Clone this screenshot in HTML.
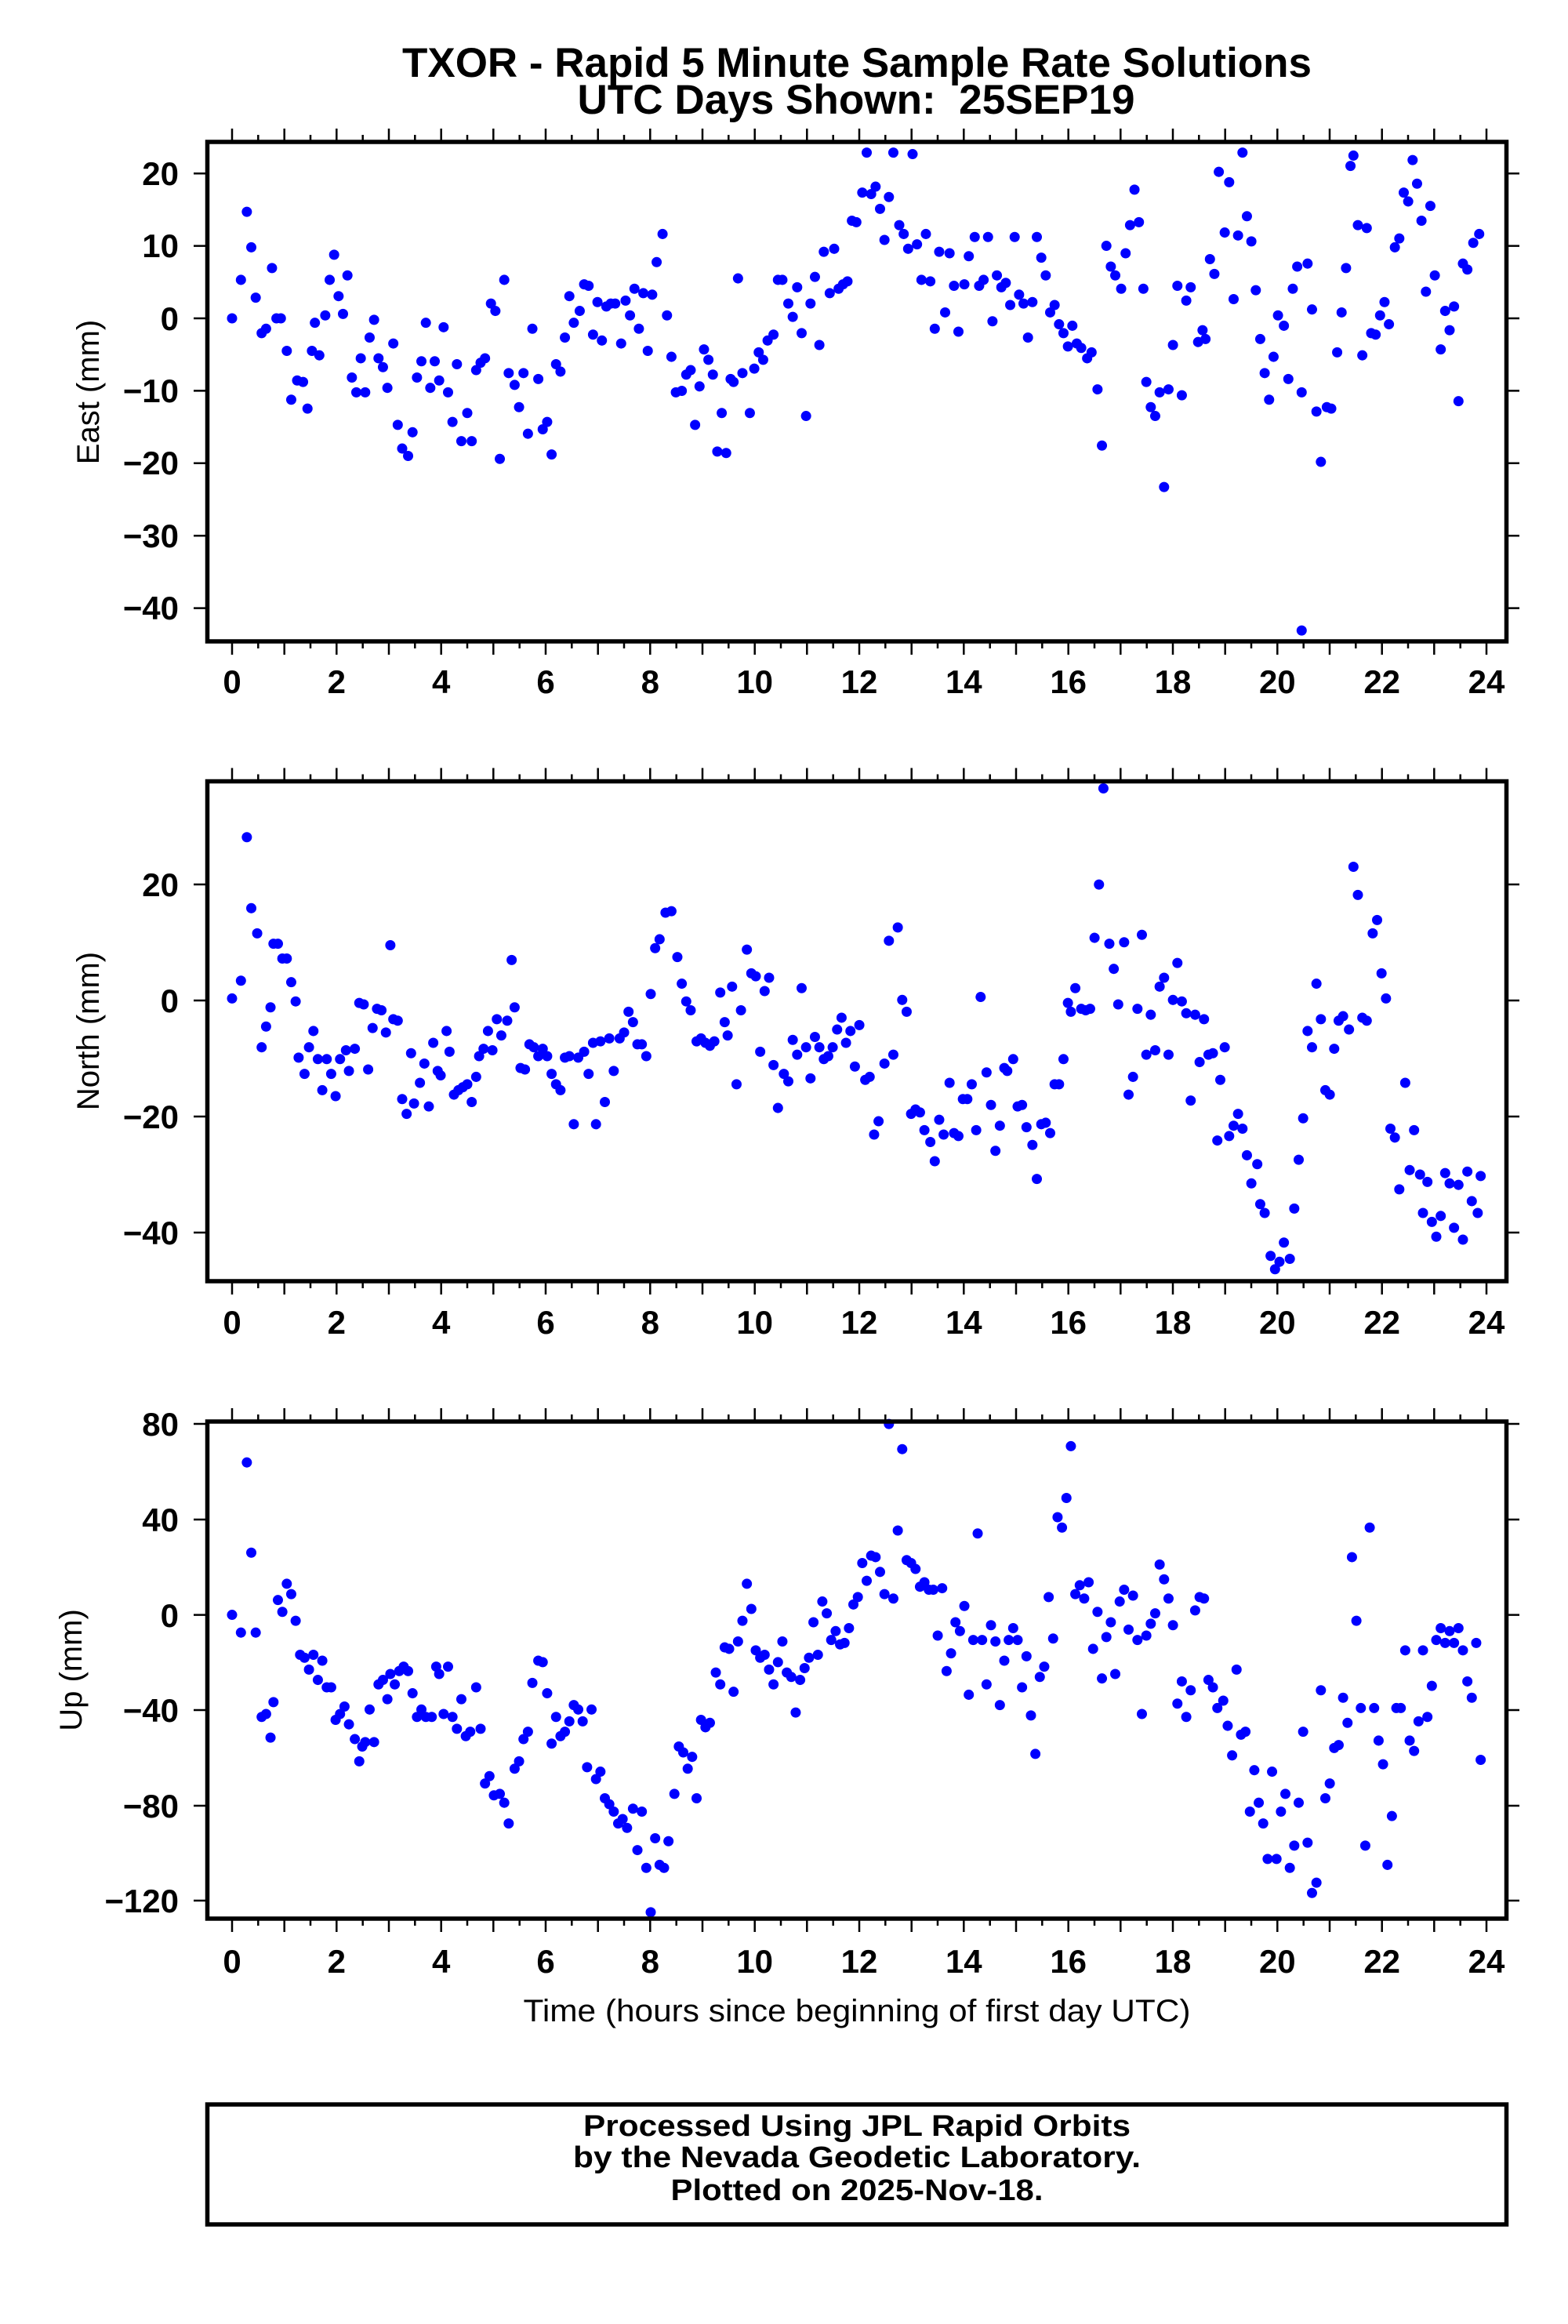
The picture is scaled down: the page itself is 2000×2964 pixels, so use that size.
<!DOCTYPE html>
<html><head><meta charset="utf-8"><style>html,body{margin:0;padding:0;background:#fff}svg{display:block}</style></head><body>
<svg width="2000" height="2964" viewBox="0 0 2000 2964" xmlns="http://www.w3.org/2000/svg" font-family="'Liberation Sans', sans-serif">
<rect width="2000" height="2964" fill="#fff"/>
<text x="1093" y="98" font-size="53" font-weight="bold" text-anchor="middle" textLength="1160" lengthAdjust="spacingAndGlyphs">TXOR - Rapid 5 Minute Sample Rate Solutions</text>
<text x="1092" y="145" font-size="53" font-weight="bold" text-anchor="middle" textLength="711" lengthAdjust="spacingAndGlyphs" xml:space="preserve">UTC Days Shown:  25SEP19</text>

<g stroke="#000" stroke-width="2.5">
<path d="M296 181v-17M329.3 181v-9M362.7 181v-17M396 181v-9M429.3 181v-17M462.7 181v-9M496 181v-17M529.3 181v-9M562.7 181v-17M596 181v-9M629.3 181v-17M662.7 181v-9M696 181v-17M729.3 181v-9M762.7 181v-17M796 181v-9M829.3 181v-17M862.7 181v-9M896 181v-17M929.3 181v-9M962.7 181v-17M996 181v-9M1029.3 181v-17M1062.7 181v-9M1096 181v-17M1129.3 181v-9M1162.7 181v-17M1196 181v-9M1229.3 181v-17M1262.7 181v-9M1296 181v-17M1329.3 181v-9M1362.7 181v-17M1396 181v-9M1429.3 181v-17M1462.7 181v-9M1496 181v-17M1529.3 181v-9M1562.7 181v-17M1596 181v-9M1629.3 181v-17M1662.7 181v-9M1696 181v-17M1729.3 181v-9M1762.7 181v-17M1796 181v-9M1829.3 181v-17M1862.7 181v-9M1896 181v-17"/>
</g>

<!-- Panel 1 -->
<g stroke="#000" stroke-width="2.5">
<path d="M296 818v17M329.3 818v9M362.7 818v17M396 818v9M429.3 818v17M462.7 818v9M496 818v17M529.3 818v9M562.7 818v17M596 818v9M629.3 818v17M662.7 818v9M696 818v17M729.3 818v9M762.7 818v17M796 818v9M829.3 818v17M862.7 818v9M896 818v17M929.3 818v9M962.7 818v17M996 818v9M1029.3 818v17M1062.7 818v9M1096 818v17M1129.3 818v9M1162.7 818v17M1196 818v9M1229.3 818v17M1262.7 818v9M1296 818v17M1329.3 818v9M1362.7 818v17M1396 818v9M1429.3 818v17M1462.7 818v9M1496 818v17M1529.3 818v9M1562.7 818v17M1596 818v9M1629.3 818v17M1662.7 818v9M1696 818v17M1729.3 818v9M1762.7 818v17M1796 818v9M1829.3 818v17M1862.7 818v9M1896 818v17"/>
<path d="M247 221.2h17M247 313.6h17M247 406h17M247 498.4h17M247 590.8h17M247 683.2h17M247 775.6h17M1921 221.2h17M1921 313.6h17M1921 406h17M1921 498.4h17M1921 590.8h17M1921 683.2h17M1921 775.6h17"/>
</g>
<g font-size="42" font-weight="bold" text-anchor="end">
<text x="228" y="236">20</text><text x="228" y="328">10</text><text x="228" y="421">0</text><text x="228" y="513">−10</text><text x="228" y="605">−20</text><text x="228" y="698">−30</text><text x="228" y="790">−40</text>
</g>
<text transform="translate(126,500) rotate(-90)" font-size="40" text-anchor="middle">East (mm)</text>

<!-- Panel 2 -->
<g stroke="#000" stroke-width="2.5">
<path d="M296 996.5v-17M329.3 996.5v-9M362.7 996.5v-17M396 996.5v-9M429.3 996.5v-17M462.7 996.5v-9M496 996.5v-17M529.3 996.5v-9M562.7 996.5v-17M596 996.5v-9M629.3 996.5v-17M662.7 996.5v-9M696 996.5v-17M729.3 996.5v-9M762.7 996.5v-17M796 996.5v-9M829.3 996.5v-17M862.7 996.5v-9M896 996.5v-17M929.3 996.5v-9M962.7 996.5v-17M996 996.5v-9M1029.3 996.5v-17M1062.7 996.5v-9M1096 996.5v-17M1129.3 996.5v-9M1162.7 996.5v-17M1196 996.5v-9M1229.3 996.5v-17M1262.7 996.5v-9M1296 996.5v-17M1329.3 996.5v-9M1362.7 996.5v-17M1396 996.5v-9M1429.3 996.5v-17M1462.7 996.5v-9M1496 996.5v-17M1529.3 996.5v-9M1562.7 996.5v-17M1596 996.5v-9M1629.3 996.5v-17M1662.7 996.5v-9M1696 996.5v-17M1729.3 996.5v-9M1762.7 996.5v-17M1796 996.5v-9M1829.3 996.5v-17M1862.7 996.5v-9M1896 996.5v-17"/>
<path d="M296 1634v17M329.3 1634v9M362.7 1634v17M396 1634v9M429.3 1634v17M462.7 1634v9M496 1634v17M529.3 1634v9M562.7 1634v17M596 1634v9M629.3 1634v17M662.7 1634v9M696 1634v17M729.3 1634v9M762.7 1634v17M796 1634v9M829.3 1634v17M862.7 1634v9M896 1634v17M929.3 1634v9M962.7 1634v17M996 1634v9M1029.3 1634v17M1062.7 1634v9M1096 1634v17M1129.3 1634v9M1162.7 1634v17M1196 1634v9M1229.3 1634v17M1262.7 1634v9M1296 1634v17M1329.3 1634v9M1362.7 1634v17M1396 1634v9M1429.3 1634v17M1462.7 1634v9M1496 1634v17M1529.3 1634v9M1562.7 1634v17M1596 1634v9M1629.3 1634v17M1662.7 1634v9M1696 1634v17M1729.3 1634v9M1762.7 1634v17M1796 1634v9M1829.3 1634v17M1862.7 1634v9M1896 1634v17"/>
<path d="M247 1128h17M247 1276h17M247 1424h17M247 1572h17M1921 1128h17M1921 1276h17M1921 1424h17M1921 1572h17"/>
</g>
<g font-size="42" font-weight="bold" text-anchor="end">
<text x="228" y="1143">20</text><text x="228" y="1291">0</text><text x="228" y="1439">−20</text><text x="228" y="1587">−40</text>
</g>
<text transform="translate(126,1315) rotate(-90)" font-size="40" text-anchor="middle">North (mm)</text>

<!-- Panel 3 -->
<g stroke="#000" stroke-width="2.5">
<path d="M296 1813v-17M329.3 1813v-9M362.7 1813v-17M396 1813v-9M429.3 1813v-17M462.7 1813v-9M496 1813v-17M529.3 1813v-9M562.7 1813v-17M596 1813v-9M629.3 1813v-17M662.7 1813v-9M696 1813v-17M729.3 1813v-9M762.7 1813v-17M796 1813v-9M829.3 1813v-17M862.7 1813v-9M896 1813v-17M929.3 1813v-9M962.7 1813v-17M996 1813v-9M1029.3 1813v-17M1062.7 1813v-9M1096 1813v-17M1129.3 1813v-9M1162.7 1813v-17M1196 1813v-9M1229.3 1813v-17M1262.7 1813v-9M1296 1813v-17M1329.3 1813v-9M1362.7 1813v-17M1396 1813v-9M1429.3 1813v-17M1462.7 1813v-9M1496 1813v-17M1529.3 1813v-9M1562.7 1813v-17M1596 1813v-9M1629.3 1813v-17M1662.7 1813v-9M1696 1813v-17M1729.3 1813v-9M1762.7 1813v-17M1796 1813v-9M1829.3 1813v-17M1862.7 1813v-9M1896 1813v-17"/>
<path d="M296 2447v17M329.3 2447v9M362.7 2447v17M396 2447v9M429.3 2447v17M462.7 2447v9M496 2447v17M529.3 2447v9M562.7 2447v17M596 2447v9M629.3 2447v17M662.7 2447v9M696 2447v17M729.3 2447v9M762.7 2447v17M796 2447v9M829.3 2447v17M862.7 2447v9M896 2447v17M929.3 2447v9M962.7 2447v17M996 2447v9M1029.3 2447v17M1062.7 2447v9M1096 2447v17M1129.3 2447v9M1162.7 2447v17M1196 2447v9M1229.3 2447v17M1262.7 2447v9M1296 2447v17M1329.3 2447v9M1362.7 2447v17M1396 2447v9M1429.3 2447v17M1462.7 2447v9M1496 2447v17M1529.3 2447v9M1562.7 2447v17M1596 2447v9M1629.3 2447v17M1662.7 2447v9M1696 2447v17M1729.3 2447v9M1762.7 2447v17M1796 2447v9M1829.3 2447v17M1862.7 2447v9M1896 2447v17"/>
<path d="M247 1816h17M247 1938h17M247 2059.6h17M247 2181h17M247 2303h17M247 2424h17M1921 1816h17M1921 1938h17M1921 2059.6h17M1921 2181h17M1921 2303h17M1921 2424h17"/>
</g>
<g font-size="42" font-weight="bold" text-anchor="end">
<text x="228" y="1831">80</text><text x="228" y="1953">40</text><text x="228" y="2075">0</text><text x="228" y="2196">−40</text><text x="228" y="2318">−80</text><text x="228" y="2439">−120</text>
</g>
<text transform="translate(104,2130) rotate(-90)" font-size="40" text-anchor="middle">Up (mm)</text>

<!-- x labels -->
<g font-size="42" font-weight="bold" text-anchor="middle">
<text x="296" y="884">0</text><text x="429.3" y="884">2</text><text x="562.7" y="884">4</text><text x="696" y="884">6</text><text x="829.3" y="884">8</text><text x="962.7" y="884">10</text><text x="1096" y="884">12</text><text x="1229.3" y="884">14</text><text x="1362.7" y="884">16</text><text x="1496" y="884">18</text><text x="1629.3" y="884">20</text><text x="1762.7" y="884">22</text><text x="1896" y="884">24</text>
<text x="296" y="1701">0</text><text x="429.3" y="1701">2</text><text x="562.7" y="1701">4</text><text x="696" y="1701">6</text><text x="829.3" y="1701">8</text><text x="962.7" y="1701">10</text><text x="1096" y="1701">12</text><text x="1229.3" y="1701">14</text><text x="1362.7" y="1701">16</text><text x="1496" y="1701">18</text><text x="1629.3" y="1701">20</text><text x="1762.7" y="1701">22</text><text x="1896" y="1701">24</text>
<text x="296" y="2516">0</text><text x="429.3" y="2516">2</text><text x="562.7" y="2516">4</text><text x="696" y="2516">6</text><text x="829.3" y="2516">8</text><text x="962.7" y="2516">10</text><text x="1096" y="2516">12</text><text x="1229.3" y="2516">14</text><text x="1362.7" y="2516">16</text><text x="1496" y="2516">18</text><text x="1629.3" y="2516">20</text><text x="1762.7" y="2516">22</text><text x="1896" y="2516">24</text>
</g>
<text x="1093" y="2578" font-size="40" text-anchor="middle" textLength="851" lengthAdjust="spacingAndGlyphs">Time (hours since beginning of first day UTC)</text>

<!-- data -->
<g fill="none" stroke="#0000ff" stroke-width="6.9" stroke-linecap="round">
<path transform="translate(3.5,0.3) scale(1.887)" d="M155 215h0M161 189h0M165 143h0M168 167h0M171 201h0M175 225h0M178 222h0M182 181h0M185 215h0M188 215h0M192 237h0M195 270h0M199 257h0M203 258h0M206 276h0M209 237h0M211 218h0M214 240h0M218 213h0M221 189h0M224 172h0M227 200h0M230 212h0M233 186h0M236 255h0M239 265h0M242 242h0M245 265h0M248 228h0M251 216h0M254 242h0M257 248h0M260 262h0M264 232h0M267 287h0M270 303h0M274 308h0M277 292h0M280 255h0M283 244h0M286 218h0M289 262h0M292 244h0M295 257h0M298 221h0M301 265h0M304 285h0M307 246h0M310 298h0M314 279h0M317 298h0M320 250h0M323 245h0M326 242h0M330 205h0M333 210h0M336 310h0M339 189h0M342 252h0M346 260h0M349 275h0M352 252h0M355 293h0M358 222h0M362 256h0M365 290h0M368 285h0M371 307h0M374 246h0M377 251h0M380 228h0M383 200h0M386 218h0M390 210h0M393 192h0M396 193h0M399 226h0M402 204h0M405 230h0M408 207h0M411 205h0M414 205h0M418 232h0M421 203h0M424 213h0M427 195h0M430 222h0M433 198h0M436 237h0M439 199h0M442 177h0M446 158h0M449 213h0M452 241h0M455 265h0M459 264h0M462 253h0M465 250h0M468 287h0M471 261h0M474 236h0M477 243h0M480 253h0M483 305h0M486 279h0M489 306h0M492 256h0M494 258h0M497 188h0M500 252h0M505 279h0M508 249h0M511 238h0M514 243h0M517 230h0M521 226h0M524 189h0M527 189h0M531 205h0M534 214h0M537 194h0M540 225h0M543 281h0M546 205h0M549 187h0M552 233h0M555 170h0M559 198h0M562 168h0M565 195h0M568 192h0M571 190h0M574 149h0M577 150h0M581 130h0M584 103h0M587 131h0M590 126h0M593 141h0M596 162h0M599 133h0M602 103h0M606 152h0M609 158h0M612 168h0M615 104h0M618 165h0M621 189h0M624 158h0M627 190h0M630 222h0M633 170h0M637 211h0M640 171h0M643 193h0M646 224h0M650 192h0M653 173h0M657 160h0M660 193h0M663 189h0M666 160h0M669 217h0M672 186h0M675 194h0M678 191h0M681 206h0M684 160h0M687 199h0M690 205h0M693 228h0M696 204h0M699 160h0M702 174h0M705 186h0M708 211h0M711 206h0M714 219h0M717 225h0M720 234h0M723 220h0M726 232h0M729 235h0M733 242h0M736 238h0M740 263h0M743 301h0M746 166h0M749 180h0M752 186h0M756 195h0M759 171h0M762 152h0M765 128h0M768 150h0M771 195h0M773 258h0M776 275h0M779 281h0M782 265h0M785 329h0M788 263h0M791 233h0M794 193h0M797 267h0M800 203h0M803 194h0M808 231h0M811 223h0M813 229h0M816 175h0M819 185h0M822 116h0M826 157h0M829 123h0M832 202h0M835 159h0M838 103h0M841 146h0M844 163h0M847 196h0M850 229h0M853 252h0M856 270h0M859 241h0M862 213h0M866 220h0M869 256h0M872 195h0M875 180h0M878 265h0M878 426h0M882 178h0M885 209h0M888 278h0M891 312h0M895 275h0M898 276h0M902 238h0M905 211h0M908 181h0M911 112h0M913 105h0M916 152h0M919 240h0M922 154h0M925 225h0M928 226h0M931 213h0M934 204h0M937 219h0M941 167h0M944 161h0M947 130h0M950 136h0M953 108h0M956 124h0M959 149h0M962 197h0M965 139h0M968 186h0M972 236h0M975 210h0M978 223h0M981 207h0M984 271h0M987 178h0M990 182h0M994 164h0M998 158h0"/>
<path transform="translate(3.5,-0.3) scale(1.887)" d="M155 675h0M161 663h0M165 566h0M168 614h0M172 631h0M175 708h0M178 694h0M181 681h0M183 638h0M186 638h0M189 648h0M192 648h0M195 664h0M198 677h0M200 715h0M204 726h0M207 708h0M210 697h0M213 716h0M216 737h0M219 716h0M222 726h0M225 741h0M228 716h0M232 710h0M234 724h0M238 709h0M241 678h0M244 679h0M247 723h0M250 695h0M253 682h0M256 683h0M259 698h0M262 639h0M264 689h0M267 690h0M270 743h0M273 753h0M276 712h0M278 746h0M282 732h0M285 719h0M288 748h0M291 705h0M294 724h0M296 727h0M300 697h0M302 711h0M305 740h0M308 737h0M311 735h0M314 733h0M317 745h0M320 728h0M322 714h0M325 709h0M328 697h0M331 710h0M334 689h0M337 700h0M341 690h0M344 649h0M346 681h0M350 722h0M353 723h0M356 706h0M359 708h0M362 714h0M365 709h0M368 714h0M371 726h0M374 733h0M377 737h0M380 715h0M383 714h0M386 760h0M389 715h0M393 711h0M396 726h0M399 705h0M401 760h0M404 704h0M407 745h0M410 702h0M413 724h0M417 702h0M420 698h0M423 684h0M426 691h0M429 706h0M432 706h0M435 714h0M438 672h0M441 641h0M444 635h0M448 617h0M452 616h0M456 647h0M459 665h0M462 677h0M465 683h0M469 704h0M472 702h0M475 705h0M478 707h0M481 704h0M485 671h0M488 691h0M490 700h0M493 667h0M496 733h0M499 683h0M503 642h0M506 658h0M509 660h0M512 711h0M515 670h0M518 661h0M521 720h0M524 749h0M528 726h0M531 731h0M534 703h0M537 713h0M540 668h0M543 708h0M546 729h0M549 701h0M552 708h0M555 716h0M558 714h0M561 708h0M564 696h0M567 688h0M570 705h0M573 697h0M576 721h0M579 693h0M583 730h0M586 728h0M589 767h0M592 758h0M596 719h0M599 636h0M602 713h0M605 627h0M608 676h0M611 684h0M614 753h0M617 750h0M620 752h0M623 764h0M627 772h0M630 785h0M633 757h0M636 767h0M640 732h0M643 766h0M646 768h0M649 743h0M652 743h0M655 733h0M658 764h0M661 674h0M665 725h0M668 747h0M671 778h0M674 761h0M677 722h0M679 724h0M683 716h0M686 748h0M689 747h0M692 762h0M696 774h0M699 797h0M702 760h0M705 759h0M708 766h0M711 733h0M714 733h0M717 716h0M720 678h0M722 684h0M725 668h0M729 682h0M732 683h0M735 682h0M738 634h0M741 598h0M744 533h0M748 638h0M751 655h0M754 679h0M758 637h0M761 740h0M764 728h0M767 682h0M770 632h0M773 713h0M776 686h0M779 710h0M782 667h0M785 661h0M788 713h0M791 676h0M794 651h0M797 677h0M800 685h0M803 744h0M806 686h0M809 718h0M812 689h0M815 713h0M818 712h0M821 771h0M823 730h0M826 708h0M829 768h0M832 761h0M835 753h0M838 763h0M841 781h0M844 800h0M848 787h0M850 814h0M853 820h0M857 849h0M860 858h0M863 853h0M866 840h0M870 851h0M873 817h0M876 784h0M879 756h0M882 697h0M885 708h0M888 665h0M891 689h0M894 737h0M897 740h0M900 709h0M903 690h0M906 687h0M910 696h0M913 586h0M916 605h0M919 688h0M922 690h0M926 631h0M929 622h0M932 658h0M935 675h0M938 763h0M941 769h0M944 804h0M948 732h0M951 791h0M954 764h0M958 794h0M960 820h0M963 799h0M966 826h0M969 836h0M972 822h0M975 793h0M978 800h0M981 830h0M984 801h0M987 838h0M990 792h0M993 812h0M997 820h0M999 795h0"/>
<path transform="translate(3.5,4.6) scale(1.887)" d="M155 1089h0M161 1101h0M165 986h0M168 1047h0M171 1101h0M175 1158h0M178 1156h0M181 1172h0M183 1148h0M186 1079h0M189 1087h0M192 1068h0M195 1075h0M198 1093h0M201 1116h0M204 1118h0M207 1126h0M210 1116h0M213 1133h0M216 1120h0M219 1138h0M222 1138h0M225 1160h0M228 1156h0M231 1151h0M234 1163h0M238 1173h0M241 1188h0M243 1178h0M245 1175h0M248 1153h0M251 1175h0M254 1136h0M257 1133h0M260 1146h0M262 1129h0M265 1136h0M268 1127h0M271 1124h0M274 1127h0M277 1142h0M280 1158h0M283 1153h0M286 1158h0M290 1158h0M293 1124h0M295 1129h0M298 1156h0M301 1124h0M304 1158h0M307 1166h0M310 1146h0M313 1171h0M316 1168h0M320 1138h0M323 1166h0M326 1203h0M329 1198h0M332 1211h0M336 1210h0M339 1216h0M342 1230h0M346 1193h0M349 1188h0M352 1173h0M355 1168h0M358 1135h0M362 1120h0M365 1121h0M368 1142h0M371 1176h0M374 1158h0M377 1171h0M380 1168h0M383 1161h0M386 1150h0M389 1153h0M392 1161h0M395 1192h0M398 1153h0M401 1200h0M404 1195h0M407 1213h0M410 1217h0M413 1222h0M416 1230h0M419 1227h0M422 1233h0M426 1220h0M429 1248h0M432 1222h0M435 1260h0M438 1290h0M441 1240h0M444 1258h0M447 1260h0M450 1242h0M454 1210h0M457 1178h0M460 1182h0M463 1193h0M466 1185h0M469 1213h0M472 1160h0M475 1165h0M478 1162h0M482 1128h0M485 1136h0M488 1111h0M491 1112h0M494 1141h0M497 1107h0M500 1093h0M503 1068h0M506 1085h0M509 1113h0M512 1118h0M515 1116h0M518 1126h0M521 1136h0M524 1121h0M527 1107h0M530 1128h0M533 1131h0M536 1155h0M539 1133h0M542 1125h0M545 1118h0M548 1094h0M551 1116h0M554 1080h0M557 1088h0M560 1106h0M563 1100h0M566 1109h0M569 1108h0M572 1098h0M575 1082h0M578 1077h0M581 1054h0M584 1066h0M587 1049h0M590 1050h0M593 1060h0M596 1075h0M599 960h0M602 1078h0M605 1032h0M608 977h0M611 1052h0M614 1054h0M617 1058h0M620 1070h0M623 1067h0M626 1072h0M629 1072h0M632 1103h0M635 1071h0M638 1127h0M641 1115h0M644 1094h0M647 1100h0M650 1083h0M653 1143h0M656 1106h0M659 1034h0M662 1106h0M665 1136h0M668 1096h0M671 1107h0M674 1150h0M677 1120h0M680 1106h0M683 1098h0M686 1106h0M689 1138h0M692 1117h0M695 1157h0M698 1183h0M701 1131h0M704 1124h0M707 1077h0M710 1105h0M713 1023h0M716 1030h0M719 1010h0M722 975h0M725 1075h0M728 1069h0M731 1078h0M734 1067h0M737 1112h0M740 1087h0M743 1132h0M746 1104h0M749 1094h0M752 1129h0M755 1080h0M758 1072h0M761 1099h0M764 1076h0M767 1106h0M770 1156h0M773 1103h0M776 1095h0M779 1088h0M782 1055h0M785 1065h0M788 1078h0M791 1096h0M794 1149h0M797 1134h0M800 1158h0M803 1140h0M806 1086h0M809 1077h0M812 1078h0M815 1133h0M818 1138h0M821 1152h0M825 1147h0M828 1164h0M831 1184h0M834 1126h0M837 1170h0M840 1168h0M843 1222h0M846 1194h0M849 1216h0M852 1230h0M855 1254h0M858 1195h0M861 1254h0M864 1222h0M867 1210h0M870 1260h0M873 1245h0M876 1216h0M879 1168h0M882 1243h0M885 1277h0M888 1270h0M891 1140h0M894 1213h0M897 1203h0M900 1179h0M903 1177h0M906 1145h0M909 1162h0M912 1050h0M915 1093h0M918 1152h0M921 1245h0M924 1030h0M927 1152h0M930 1174h0M933 1190h0M936 1258h0M939 1225h0M942 1152h0M945 1152h0M948 1113h0M951 1174h0M954 1181h0M957 1161h0M960 1113h0M963 1158h0M966 1137h0M969 1106h0M972 1098h0M975 1108h0M978 1100h0M981 1108h0M984 1098h0M987 1113h0M990 1134h0M993 1145h0M996 1108h0M999 1187h0"/>
</g>

<!-- frames -->
<g fill="none" stroke="#000" stroke-width="5.5">
<rect x="264.5" y="181" width="1657" height="637"/>
<rect x="264.5" y="996.5" width="1657" height="637.5"/>
<rect x="264.5" y="1813" width="1657" height="634"/>
<rect x="264.5" y="2684" width="1657" height="153"/>
</g>
<g font-size="38" font-weight="bold" text-anchor="middle">
<text x="1093" y="2724" textLength="698" lengthAdjust="spacingAndGlyphs">Processed Using JPL Rapid Orbits</text>
<text x="1093" y="2764" textLength="724" lengthAdjust="spacingAndGlyphs">by the Nevada Geodetic Laboratory.</text>
<text x="1093" y="2806" textLength="475" lengthAdjust="spacingAndGlyphs">Plotted on 2025-Nov-18.</text>
</g>
</svg>
</body></html>
